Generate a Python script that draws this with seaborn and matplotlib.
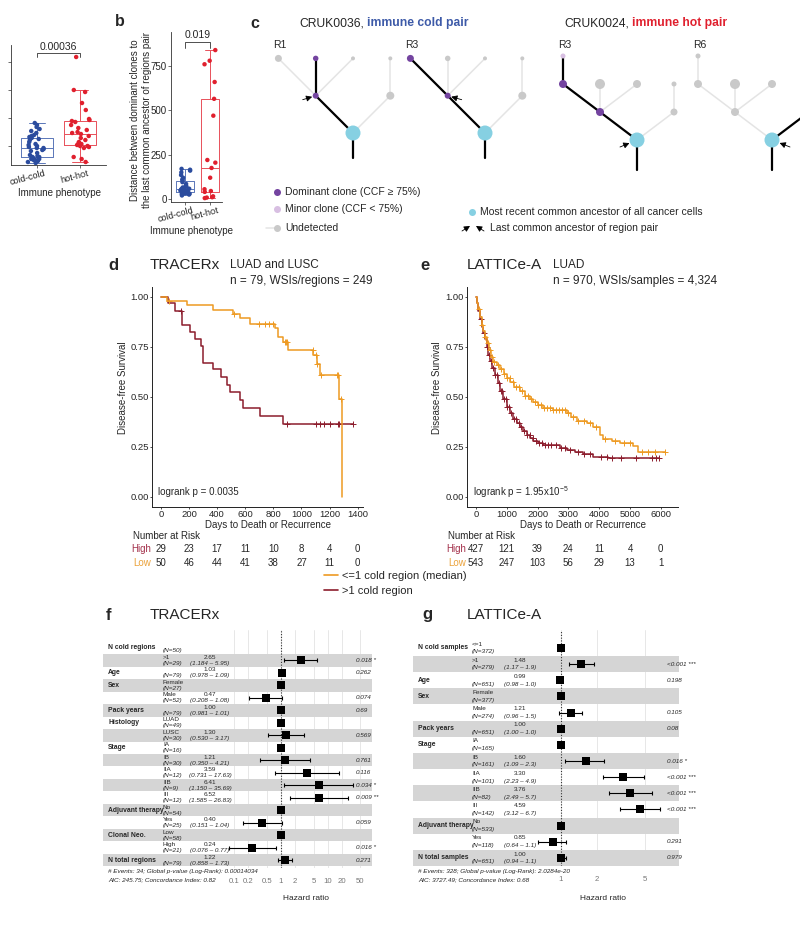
import numpy as np
import pandas as pd
import matplotlib
matplotlib.use('Agg')
import matplotlib.pyplot as plt
import seaborn as sns
from matplotlib.transforms import blended_transform_factory, ScaledTranslation
from matplotlib.lines import Line2D
from matplotlib.ticker import NullLocator

# ======================= DATA =======================
# panels a / b : distance between dominant clones and LCA of region pair
pheno = ['cold-cold', 'hot-hot']
a_cold = [2, 3, 4, 4, 5, 5, 6, 6, 7, 8, 8, 9, 10, 12, 14, 15, 16, 17, 17, 18, 19, 20, 21, 23,
          25, 26, 27, 28, 29, 30, 32, 34, 36, 38, 40, 42]
a_hot = [3, 6, 8, 17, 18, 19, 19, 20, 21, 22, 23, 25, 27, 29, 31, 32, 33, 35, 37, 40, 43, 44,
         45, 46, 55, 62, 73, 75, 108]
a_pval = '0.00036'
b_cold = [20, 25, 28, 30, 32, 35, 38, 40, 42, 45, 48, 50, 52, 55, 58, 60, 62, 65, 70, 75, 85,
          95, 105, 110, 120, 135, 150, 160, 165, 170]
b_hot = [5, 8, 10, 15, 40, 45, 55, 120, 175, 205, 220, 470, 565, 660, 760, 780, 840]
b_pval = '0.019'
b_ticks = [0, 250, 500, 750]

# panel c : phylogenetic trees (column offset, level, clone size px)
cold_col = [0, -1, -1, -2, 0, 1, 1]
cold_lvl = [0, 1, 2, 2, 2, 1, 2]
cold_size = [15, 6, 5.5, 7, 4, 8, 4]
cold_edges = [(0, 1), (1, 2), (1, 3), (1, 4), (0, 5), (5, 6)]
cold_R1_state = ['mrca', 'dom', 'dom', 'und', 'und', 'und', 'und']
cold_R1_path = [(0, 1), (1, 2)]
cold_R3_state = ['mrca', 'dom', 'und', 'dom', 'und', 'und', 'und']
cold_R3_path = [(0, 1), (1, 3)]
cold_lca = 1
hot_col = [0, -1, -2, -2, -1, 0, 1, 1]
hot_lvl = [0, 1, 2, 3, 2, 2, 1, 2]
hot_size = [15, 8, 8, 5, 10, 8, 7, 5]
hot_edges = [(0, 1), (1, 2), (2, 3), (1, 4), (1, 5), (0, 6), (6, 7)]
hot_R3_state = ['mrca', 'dom', 'dom', 'min', 'und', 'und', 'und', 'und']
hot_R3_path = [(0, 1), (1, 2), (2, 3)]
hot_R6_state = ['mrca', 'und', 'und', 'und', 'und', 'und', 'und', 'und']
hot_R6_path = [(0, 6)]
hot_lca = 0

# panel d : TRACERx Kaplan-Meier
d_high_t = [0, 50, 100, 147, 206, 240, 288, 300, 373, 430, 468, 492, 563, 587, 706, 871, 1370]
d_high_s = [1.0, 0.97, 0.93, 0.86, 0.825, 0.79, 0.755, 0.67, 0.64, 0.60, 0.56, 0.525, 0.485,
            0.445, 0.405, 0.365, 0.365]
d_high_cens = [140, 900, 1100, 1130, 1160, 1200, 1260, 1270, 1370]
d_low_t = [0, 40, 183, 373, 515, 563, 636, 815, 830, 870, 904, 1085, 1107, 1130, 1269, 1286]
d_low_s = [1.0, 0.98, 0.96, 0.935, 0.915, 0.895, 0.865, 0.845, 0.80, 0.775, 0.737, 0.71, 0.667,
           0.61, 0.49, 0.0]
d_low_cens = [60, 520, 700, 740, 770, 800, 880, 890, 900, 1080, 1100, 1110, 1140, 1250, 1260, 1280]
d_risk_t = [0, 200, 400, 600, 800, 1000, 1200, 1400]
d_risk_high = [29, 23, 17, 11, 10, 8, 4, 0]
d_risk_low = [50, 46, 44, 41, 38, 27, 11, 0]

# panel e : LATTICe-A Kaplan-Meier
e_high_t = [0, 40, 80, 130, 180, 230, 280, 346, 400, 455, 530, 617, 700, 780, 880, 996, 1100,
            1212, 1320, 1429, 1540, 1645, 1760, 1862, 2000, 2186, 2728, 2944, 3200, 3486, 3810,
            4300, 5950]
e_high_s = [1.0, 0.97, 0.93, 0.89, 0.85, 0.82, 0.79, 0.75, 0.71, 0.68, 0.645, 0.61, 0.57, 0.53,
            0.49, 0.45, 0.42, 0.39, 0.37, 0.35, 0.33, 0.31, 0.295, 0.28, 0.27, 0.26, 0.245, 0.235,
            0.225, 0.215, 0.20, 0.195, 0.195]
e_high_cens = [150, 250, 350, 420, 500, 560, 620, 680, 740, 800, 850, 900, 960, 1020, 1080, 1150,
               1220, 1300, 1380, 1450, 1550, 1650, 1750, 1850, 1950, 2050, 2150, 2250, 2350, 2450,
               2600, 2750, 2900, 3050, 3300, 3500, 3700, 4050, 4250, 4400, 4700, 5200, 5700, 5850,
               5950]
e_low_t = [0, 40, 80, 130, 180, 240, 300, 346, 420, 490, 563, 680, 780, 900, 1000, 1104, 1250,
           1429, 1600, 1750, 1862, 2000, 2186, 2500, 2944, 3100, 3269, 3594, 3800, 4027, 4135,
           4400, 4676, 5109, 5271, 6150]
e_low_s = [1.0, 0.97, 0.94, 0.90, 0.86, 0.83, 0.80, 0.77, 0.735, 0.70, 0.675, 0.66, 0.64, 0.615,
           0.595, 0.575, 0.55, 0.53, 0.505, 0.49, 0.475, 0.46, 0.445, 0.435, 0.42, 0.40, 0.38,
           0.37, 0.35, 0.31, 0.29, 0.28, 0.27, 0.255, 0.225, 0.225]
e_low_cens = [100, 200, 300, 380, 450, 520, 600, 700, 800, 900, 1000, 1100, 1200, 1300, 1400,
              1500, 1600, 1700, 1800, 1900, 2000, 2100, 2200, 2300, 2400, 2500, 2600, 2700, 2800,
              2900, 3000, 3150, 3300, 3500, 3700, 3900, 4200, 4500, 4800, 5000, 5400, 5600, 5800,
              6150]
e_risk_t = [0, 1000, 2000, 3000, 4000, 5000, 6000]
e_risk_high = [427, 121, 39, 24, 11, 4, 0]
e_risk_low = [543, 247, 103, 56, 29, 13, 1]

# panel f : TRACERx Cox model
f_var = ['N cold regions', '', 'Age', 'Sex', '', 'Pack years', 'Histology', '', 'Stage', '', '',
         '', '', 'Adjuvant therapy', '', 'Clonal Neo.', '', 'N total regions']
f_level = ['', '>1', '', 'Female', 'Male', '', 'LUAD', 'LUSC', 'IA', 'IB', 'IIA', 'IIB', 'III',
           'No', 'Yes', 'Low', 'High', '']
f_n = [50, 29, 79, 27, 52, 79, 49, 30, 16, 30, 12, 9, 12, 54, 25, 58, 21, 79]
f_hr = ['', '2.65', '1.03', 'ref', '0.47', '1.00', 'ref', '1.30', 'ref', '1.21', '3.59', '6.41',
        '6.52', 'ref', '0.40', 'ref', '0.24', '1.22']
f_lo = ['', '1.184', '0.978', '', '0.208', '0.981', '', '0.530', '', '0.350', '0.731', '1.150',
        '1.585', '', '0.151', '', '0.076', '0.858']
f_hi = ['', '5.95', '1.09', '', '1.08', '1.01', '', '3.17', '', '4.21', '17.63', '35.69', '26.83',
        '', '1.04', '', '0.77', '1.73']
f_p = ['', '0.018 *', '0.262', '', '0.074', '0.69', '', '0.569', '', '0.761', '0.116', '0.034 *',
       '0.009 **', '', '0.059', '', '0.016 *', '0.271']
f_ticks = [0.1, 0.2, 0.5, 1, 2, 5, 10, 20, 50]
f_ticklabels = ['0.1', '0.2', '0.5', '1', '2', '5', '10', '20', '50']
f_foot = ['# Events: 34; Global p-value (Log-Rank): 0.00014034',
          'AIC: 245.75; Concordance Index: 0.82']

# panel g : LATTICe-A Cox model
g_var = ['N cold samples', '', 'Age', 'Sex', '', 'Pack years', 'Stage', '', '', '', '',
         'Adjuvant therapy', '', 'N total samples']
g_level = ['<=1', '>1', '', 'Female', 'Male', '', 'IA', 'IB', 'IIA', 'IIB', 'III', 'No', 'Yes', '']
g_n = [372, 279, 651, 377, 274, 651, 165, 161, 101, 82, 142, 533, 118, 651]
g_hr = ['ref', '1.48', '0.99', 'ref', '1.21', '1.00', 'ref', '1.60', '3.30', '3.76', '4.59', 'ref',
        '0.85', '1.00']
g_lo = ['', '1.17', '0.98', '', '0.96', '1.00', '', '1.09', '2.23', '2.49', '3.12', '', '0.64',
        '0.94']
g_hi = ['', '1.9', '1.0', '', '1.5', '1.0', '', '2.3', '4.9', '5.7', '6.7', '', '1.1', '1.1']
g_p = ['', '<0.001 ***', '0.198', '', '0.105', '0.08', '', '0.016 *', '<0.001 ***', '<0.001 ***',
       '<0.001 ***', '', '0.291', '0.979']
g_ticks = [1, 2, 5]
g_ticklabels = ['1', '2', '5']
g_foot = ['# Events: 328; Global p-value (Log-Rank): 2.0284e-20',
          'AIC: 3727.49; Concordance Index: 0.68']

# ======================= STYLE =======================
W, H = 800, 943
sns.set_theme(style='white')
plt.rcParams['font.family'] = ['Liberation Sans', 'DejaVu Sans']
plt.rcParams['mathtext.default'] = 'regular'
plt.rcParams['axes.linewidth'] = 0.7

BLUE_PT, RED_PT = '#2B4C9E', '#E0202E'
BLUE_BOX, RED_BOX = '#5A76B8', '#E8505A'
KM_HIGH, KM_LOW = '#8C1C2C', '#EE9A22'
TXT_HIGH, TXT_LOW = '#A3304A', '#EBA23A'
STATE_COL = {'mrca': '#86D0E2', 'dom': '#7444A0', 'min': '#D8BFE2', 'und': '#C9C9C9'}
EDGE_GREY = '#E4E4E4'
SHADE = '#D5D5D5'

fig = plt.figure(figsize=(W / 100, H / 100), dpi=100)


def pax(x0, y0, x1, y1):
    return fig.add_axes([x0 / W, 1 - y1 / H, (x1 - x0) / W, (y1 - y0) / H])


def ftext(x, y, s, **kw):
    kw.setdefault('va', 'center')
    return fig.text(x / W, 1 - y / H, s, **kw)


# ======================= a / b =======================
def boxstrip(ax, cold, hot, seed):
    df = pd.DataFrame({'pheno': [pheno[0]] * len(cold) + [pheno[1]] * len(hot),
                       'val': cold + hot})
    sns.boxplot(data=df, x='pheno', y='val', hue='pheno', palette=[BLUE_BOX, RED_BOX],
                fill=False, width=0.75, linewidth=0.7, showfliers=False, legend=False, ax=ax)
    np.random.seed(seed)
    sns.stripplot(data=df, x='pheno', y='val', hue='pheno', palette=[BLUE_PT, RED_PT],
                  jitter=0.22, size=3.2, legend=False, ax=ax, zorder=3, linewidth=0)
    ax.set_xlabel('')
    ax.set_ylabel('')
    for sp in ['top', 'right']:
        ax.spines[sp].set_visible(False)
    for sp in ['left', 'bottom']:
        ax.spines[sp].set_color('#333333')
        ax.spines[sp].set_linewidth(0.6)
    ax.tick_params(axis='both', left=True, bottom=True, length=2, width=0.5, color='#333333',
                   labelsize=7, pad=1)
    shift = ScaledTranslation(7 / 100, 0, fig.dpi_scale_trans)
    for lab in ax.get_xticklabels():
        lab.set_rotation(15)
        lab.set_ha('right')
        lab.set_rotation_mode('anchor')
        lab.set_fontsize(6.6)
        lab.set_transform(lab.get_transform() + shift)


def bracket(ax, y, drop, label):
    ax.plot([0, 0, 1, 1], [y - drop, y, y, y - drop], color='#333333', lw=0.6, clip_on=False)
    ax.text(0.5, y + drop * 0.3, label, ha='center', va='bottom', fontsize=7.5, clip_on=False)


axA = pax(11, 45, 106, 165)
boxstrip(axA, a_cold, a_hot, 2)
axA.set_xlim(-0.6, 1.6)
axA.set_ylim(0, 120)
axA.set_yticks([19, 47, 75, 103])
axA.set_yticklabels([])
bracket(axA, 112, 4, a_pval)
ftext(60, 193, 'Immune phenotype', ha='center', fontsize=7)

axB = pax(171, 32, 222, 202)
boxstrip(axB, b_cold, b_hot, 5)
axB.set_xlim(-0.56, 1.48)
axB.set_ylim(-17, 942)
axB.set_yticks(b_ticks)
axB.set_yticklabels([str(v) for v in b_ticks], fontsize=7)
bracket(axB, 885, 35, b_pval)
ftext(192, 231, 'Immune phenotype', ha='center', fontsize=7)
ftext(141, 120, 'Distance between dominant clones to\nthe last common ancestor of regions pair',
      rotation=90, ha='center', fontsize=7, linespacing=1.25)
ftext(120, 22, 'b', fontsize=11.5, fontweight='bold', ha='center')

# ======================= c =======================
axC = pax(240, 30, 800, 240)
axC.set_xlim(240, 800)
axC.set_ylim(240, 30)
axC.axis('off')


def draw_tree(cols, lvls, sizes, edges, states, path, lca, root, dx, dy, trunk, side, off, label):
    xs = [root[0] + c * dx for c in cols]
    ys = [root[1] - l * dy for l in lvls]
    for i, j in edges:
        axC.plot([xs[i], xs[j]], [ys[i], ys[j]], color=EDGE_GREY, lw=1.1, zorder=1)
    for i, j in path:
        axC.plot([xs[i], xs[j]], [ys[i], ys[j]], color='black', lw=1.6, zorder=2)
    axC.plot([xs[0], xs[0]], [ys[0], ys[0] + trunk], color='black', lw=1.6, zorder=2)
    axC.scatter(xs, ys, s=[(d * 0.72) ** 2 for d in sizes], c=[STATE_COL[s] for s in states],
                lw=0, zorder=3)
    axC.annotate('', xy=(xs[lca], ys[lca]), xytext=(xs[lca] + side * off[0], ys[lca] + off[1]),
                 arrowprops=dict(arrowstyle='-|>,head_length=0.35,head_width=0.18',
                                 color='black', lw=0.6, shrinkA=0,
                                 shrinkB=sizes[lca] * 0.36 + 0.5, mutation_scale=10), zorder=4)
    axC.text(xs[0] - 2 * dx - 5, 45, label, fontsize=7.5, ha='left', va='center')


draw_tree(cold_col, cold_lvl, cold_size, cold_edges, cold_R1_state, cold_R1_path, cold_lca,
          (353, 133), 37.3, 37.3, 25, -1, (13, 4), 'R1')
draw_tree(cold_col, cold_lvl, cold_size, cold_edges, cold_R3_state, cold_R3_path, cold_lca,
          (485, 133), 37.3, 37.3, 25, 1, (14, 4), 'R3')
draw_tree(hot_col, hot_lvl, hot_size, hot_edges, hot_R3_state, hot_R3_path, hot_lca,
          (637, 140), 37, 28, 30, -1, (17, 7), 'R3')
draw_tree(hot_col, hot_lvl, hot_size, hot_edges, hot_R6_state, hot_R6_path, hot_lca,
          (772, 140), 37, 28, 30, 1, (18, 7), 'R6')

# legend of c
leg_items = [('dom', 192, 'Dominant clone (CCF \u2265 75%)'),
             ('min', 209, 'Minor clone (CCF < 75%)'),
             ('und', 228, 'Undetected')]
for st, yy, lab in leg_items:
    axC.scatter([277], [yy], s=(7 * 0.72) ** 2, c=STATE_COL[st], lw=0, zorder=3)
    axC.text(285, yy, lab, fontsize=7.5, va='center', ha='left')
axC.plot([266, 277], [228, 228], color=EDGE_GREY, lw=1.1, zorder=1)
axC.scatter([472], [212], s=(7 * 0.72) ** 2, c=STATE_COL['mrca'], lw=0)
axC.text(480, 212, 'Most recent common ancestor of all cancer cells', fontsize=7.5,
         va='center', ha='left')
for tail, head in [((462, 231), (470, 226)), ((484, 231), (476, 226))]:
    axC.annotate('', xy=head, xytext=tail,
                 arrowprops=dict(arrowstyle='-|>,head_length=0.35,head_width=0.18', color='black',
                                 lw=0.6, shrinkA=0, shrinkB=0, mutation_scale=10))
axC.text(490, 228, 'Last common ancestor of region pair', fontsize=7.5, va='center', ha='left')

ftext(255, 23, 'c', fontsize=11.5, fontweight='bold', ha='center')
ftext(364, 23, 'CRUK0036,', fontsize=8.7, ha='right')
ftext(367, 23, 'immune cold pair', fontsize=8.7, ha='left', fontweight='bold', color='#3D5AA8')
ftext(629, 23, 'CRUK0024,', fontsize=8.7, ha='right')
ftext(632, 23, 'immune hot pair', fontsize=8.7, ha='left', fontweight='bold', color='#E0202E')


# ======================= d / e =======================
def km(ax, t, s, cens, color):
    sns.lineplot(x=t, y=s, drawstyle='steps-post', color=color, lw=1.1, ax=ax,
                 estimator=None, sort=False)
    t = np.asarray(t)
    s = np.asarray(s)
    cy = s[np.searchsorted(t, cens, side='right') - 1]
    ax.plot(cens, cy, ls='none', marker='+', ms=4, mew=0.7, color=color)


def km_axes(ax, xlim, xticks):
    ax.set_xlim(*xlim)
    ax.set_ylim(-0.05, 1.05)
    ax.set_xticks(xticks)
    ax.set_xticklabels([str(v) for v in xticks])
    ax.set_yticks([0, 0.25, 0.5, 0.75, 1.0])
    ax.set_yticklabels(['0.00', '0.25', '0.50', '0.75', '1.00'])
    ax.tick_params(axis='both', left=True, bottom=True, length=1.6, width=0.6, labelsize=6.8,
                   pad=0.5, color='#333333')
    for sp in ['top', 'right']:
        ax.spines[sp].set_visible(False)
    for sp in ['left', 'bottom']:
        ax.spines[sp].set_color('#222222')
        ax.spines[sp].set_linewidth(0.7)
    ax.set_xlabel('')
    ax.set_ylabel('')


def risk_table(ax, times, high, low, x_title, x_lab):
    tr = blended_transform_factory(ax.transData, fig.transFigure)
    ftext(x_title, 536, 'Number at Risk', fontsize=7, ha='left')
    ftext(x_lab, 549, 'High', fontsize=7, ha='right', color=TXT_HIGH)
    ftext(x_lab, 563, 'Low', fontsize=7, ha='right', color=TXT_LOW)
    for t, h, l in zip(times, high, low):
        ax.text(t, 1 - 549 / H, str(h), transform=tr, ha='center', va='center', fontsize=7)
        ax.text(t, 1 - 563 / H, str(l), transform=tr, ha='center', va='center', fontsize=7)


axD = pax(152, 287, 363, 507)
km(axD, d_high_t, d_high_s, d_high_cens, KM_HIGH)
km(axD, d_low_t, d_low_s, d_low_cens, KM_LOW)
km_axes(axD, (-64, 1438), d_risk_t)
risk_table(axD, d_risk_t, d_risk_high, d_risk_low, 133, 151)
ftext(158, 492, 'logrank p = 0.0035', fontsize=7, ha='left')
ftext(268, 525, 'Days to Death or Recurrence', fontsize=7, ha='center')
ftext(123, 388, 'Disease-free Survival', fontsize=7, ha='center', rotation=90)
ftext(113, 265, 'd', fontsize=12, fontweight='bold', ha='center')
ftext(150, 265, 'TRACERx', fontsize=11, ha='left')
ftext(230, 265, 'LUAD and LUSC', fontsize=8.5, ha='left')
ftext(230, 281, 'n = 79, WSIs/regions = 249', fontsize=8.5, ha='left')

axE = pax(467, 287, 678, 507)
km(axE, e_high_t, e_high_s, e_high_cens, KM_HIGH)
km(axE, e_low_t, e_low_s, e_low_cens, KM_LOW)
km_axes(axE, (-292, 6558), e_risk_t)
risk_table(axE, e_risk_t, e_risk_high, e_risk_low, 448, 466)
ftext(473, 492, 'logrank p = 1.95x10$^{-5}$', fontsize=7, ha='left')
ftext(583, 525, 'Days to Death or Recurrence', fontsize=7, ha='center')
ftext(437, 388, 'Disease-free Survival', fontsize=7, ha='center', rotation=90)
ftext(425, 265, 'e', fontsize=12, fontweight='bold', ha='center')
ftext(467, 265, 'LATTICe-A', fontsize=11, ha='left')
ftext(553, 265, 'LUAD', fontsize=8.5, ha='left')
ftext(553, 281, 'n = 970, WSIs/samples = 4,324', fontsize=8.5, ha='left')

handles = [Line2D([], [], color=KM_LOW, lw=1.2), Line2D([], [], color=KM_HIGH, lw=1.2)]
fig.legend(handles, ['<=1 cold region (median)', '>1 cold region'], loc='upper left',
           bbox_to_anchor=(324 / W, 1 - 571 / H), frameon=False, fontsize=8, handlelength=1.3,
           handletextpad=0.3, labelspacing=0.42, borderpad=0, borderaxespad=0)


# ======================= f / g =======================
FS = 4.6


def forest(ax, var, level, n, hr, lo, hi, pv, ticks, ticklabels, xlim, ylim, cols):
    ax.set_xscale('log')
    ax.set_xlim(*xlim)
    ax.set_ylim(*ylim)
    tr = blended_transform_factory(ax.transAxes, ax.transData)
    ex, ey, elo, ehi, sx, sy = [], [], [], [], [], []
    for i in range(len(var)):
        if i % 2 == 1:
            ax.axhspan(i - 0.5, i + 0.5, color=SHADE, lw=0, zorder=1)
        if var[i]:
            ax.text(cols[0], i, var[i], transform=tr, fontweight='bold', fontsize=FS + 0.3,
                    va='center', ha='left', zorder=6)
        if level[i]:
            ax.text(cols[1], i - 0.24, level[i], transform=tr, fontsize=FS, va='center',
                    ha='left', zorder=6)
        ax.text(cols[1], i + 0.24, f'(N={n[i]})', transform=tr, fontsize=FS, style='italic',
                va='center', ha='left', zorder=6)
        if hr[i] == 'ref':
            sx.append(1.0)
            sy.append(i)
        elif hr[i]:
            sx.append(float(hr[i]))
            sy.append(i)
            ex.append(float(hr[i]))
            ey.append(i)
            elo.append(float(lo[i]))
            ehi.append(float(hi[i]))
            ax.text(cols[2], i - 0.24, hr[i], transform=tr, fontsize=FS, va='center',
                    ha='center', zorder=6)
            ax.text(cols[2], i + 0.24, f'({lo[i]} \u2013 {hi[i]})', transform=tr, fontsize=FS,
                    style='italic', va='center', ha='center', zorder=6)
        if pv[i]:
            ax.text(cols[3], i, pv[i], transform=tr, fontsize=FS, style='italic', va='center',
                    ha='left', zorder=6)
    ex = np.array(ex)
    ax.errorbar(ex, ey, xerr=[ex - np.array(elo), np.array(ehi) - ex], fmt='none', ecolor='black',
                elinewidth=0.8, capsize=1.3, capthick=0.8, zorder=4)
    sns.scatterplot(x=sx, y=sy, marker='s', s=32, color='black', linewidth=0, ax=ax, zorder=5)
    ax.axvline(1, color='#333333', ls=(0, (1, 1.5)), lw=0.8, zorder=3)
    ax.set_xticks(ticks)
    ax.set_xticklabels(ticklabels)
    ax.xaxis.set_minor_locator(NullLocator())
    ax.set_yticks([])
    ax.grid(False)
    ax.set_axisbelow(True)
    ax.xaxis.grid(True, color='#E3E3E3', lw=0.6)
    ax.tick_params(axis='x', length=0, labelsize=5.6, pad=7, labelcolor='#777777')
    for sp in ax.spines.values():
        sp.set_visible(False)
    ax.set_xlabel('')
    ax.set_ylabel('')


axF = pax(103, 630, 372, 868)
forest(axF, f_var, f_level, f_n, f_hr, f_lo, f_hi, f_p, f_ticks, f_ticklabels,
       (10 ** -3.81, 10 ** 1.95), (17.64, -1.44), (0.0186, 0.223, 0.398, 0.941))
ftext(108, 871, f_foot[0], fontsize=FS, style='italic', ha='left')
ftext(108, 880, f_foot[1], fontsize=FS, style='italic', ha='left')
ftext(306, 898, 'Hazard ratio', fontsize=6, ha='center')
ftext(108, 615, 'f', fontsize=12, fontweight='bold', ha='center')
ftext(150, 615, 'TRACERx', fontsize=11, ha='left')

axG = pax(413, 630, 679, 866)
forest(axG, g_var, g_level, g_n, g_hr, g_lo, g_hi, g_p, g_ticks, g_ticklabels,
       (10 ** -1.233, 10 ** 0.983), (13.5, -1.11), (0.019, 0.222, 0.402, 0.955))
ftext(418, 871, g_foot[0], fontsize=FS, style='italic', ha='left')
ftext(418, 880, g_foot[1], fontsize=FS, style='italic', ha='left')
ftext(603, 898, 'Hazard ratio', fontsize=6, ha='center')
ftext(427, 615, 'g', fontsize=12, fontweight='bold', ha='center')
ftext(467, 615, 'LATTICe-A', fontsize=11, ha='left')

fig.savefig('out.png', dpi=100)
